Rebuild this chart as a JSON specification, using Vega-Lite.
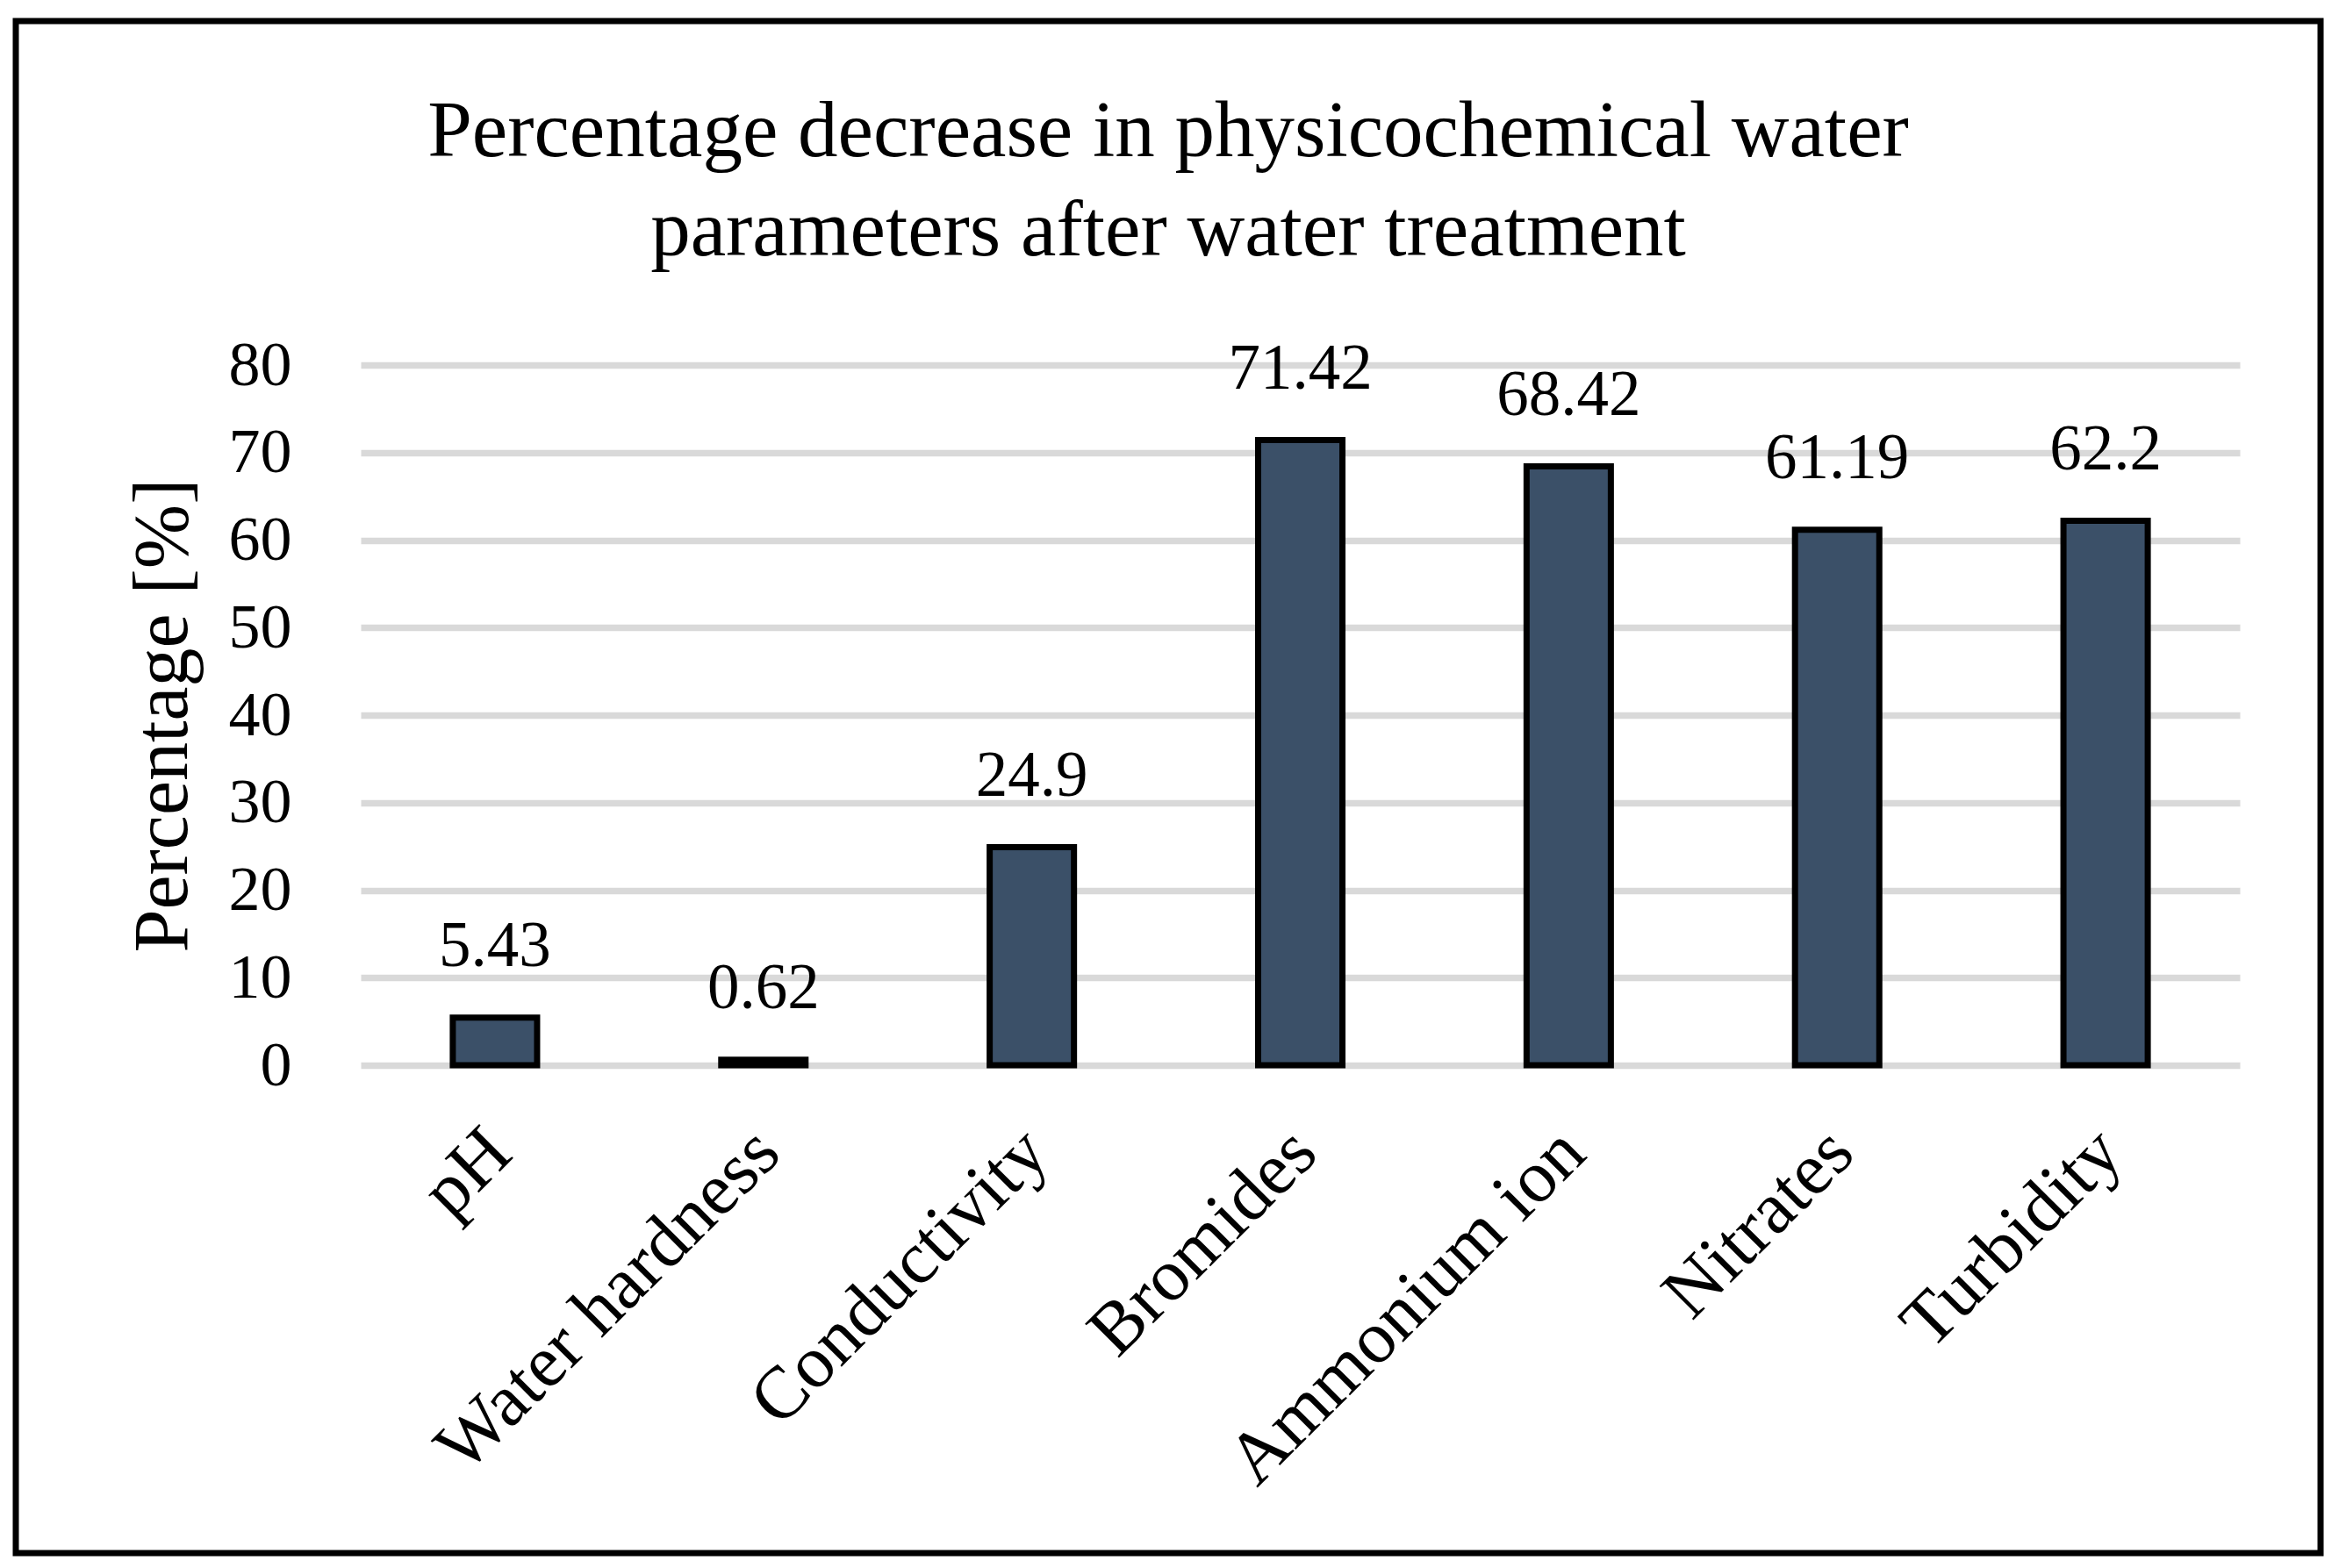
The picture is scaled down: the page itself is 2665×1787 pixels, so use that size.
{
  "$schema": "https://vega.github.io/schema/vega-lite/v6.json",
  "autosize": "none",
  "padding": {"left": 18, "top": 24, "right": 21, "bottom": 17},
  "width": 2626,
  "height": 1746,
  "background": "white",
  "title": {
    "text": ["Percentage decrease in physicochemical water", "parameters after water treatment"],
    "font": "Liberation Serif",
    "fontSize": 91,
    "fontWeight": "normal",
    "color": "black",
    "lineHeight": 113,
    "anchor": "middle",
    "frame": "group",
    "baseline": "alphabetic",
    "offset": -358
  },
  "config": {
    "view": {"stroke": "black", "strokeWidth": 7, "fill": "white"},
    "font": "Liberation Serif"
  },
  "data": {
    "values": [
      {"parameter": "pH", "value": 5.43},
      {"parameter": "Water hardness", "value": 0.62},
      {"parameter": "Conductivity", "value": 24.9},
      {"parameter": "Bromides", "value": 71.42},
      {"parameter": "Ammonium ion", "value": 68.42},
      {"parameter": "Nitrates", "value": 61.19},
      {"parameter": "Turbidity", "value": 62.2}
    ]
  },
  "encoding": {
    "x": {
      "field": "parameter",
      "type": "nominal",
      "sort": null,
      "scale": {"range": [393, 2534], "paddingInner": 0.686, "paddingOuter": 0.343},
      "axis": {
        "title": null,
        "domain": false,
        "ticks": false,
        "labelAngle": -45,
        "labelAlign": "right",
        "labelBaseline": "middle",
        "labelFont": "Liberation Serif",
        "labelFontSize": 84,
        "labelColor": "black",
        "labelLimit": 0,
        "labelPadding": 86,
        "labelOffset": 5,
        "offset": -556
      }
    },
    "y": {
      "field": "value",
      "type": "quantitative",
      "scale": {"domain": [0, 80], "range": [1190, 392], "nice": false},
      "axis": {
        "title": "Percentage [%]",
        "titleFont": "Liberation Serif",
        "titleFontSize": 88,
        "titleFontWeight": "normal",
        "titleColor": "black",
        "titlePadding": 30,
        "values": [0, 10, 20, 30, 40, 50, 60, 70, 80],
        "domain": false,
        "ticks": false,
        "labelFont": "Liberation Serif",
        "labelFontSize": 72,
        "labelColor": "black",
        "labelPadding": 79,
        "gridColor": "#D9D9D9",
        "gridWidth": 7.5,
        "offset": -393
      }
    }
  },
  "layer": [
    {
      "mark": {"type": "bar", "fill": "#3B5068", "stroke": "black", "strokeWidth": 7}
    },
    {
      "mark": {"type": "text", "font": "Liberation Serif", "fontSize": 73, "color": "black", "baseline": "alphabetic", "dy": -59},
      "encoding": {"text": {"field": "value", "type": "quantitative"}}
    }
  ]
}
